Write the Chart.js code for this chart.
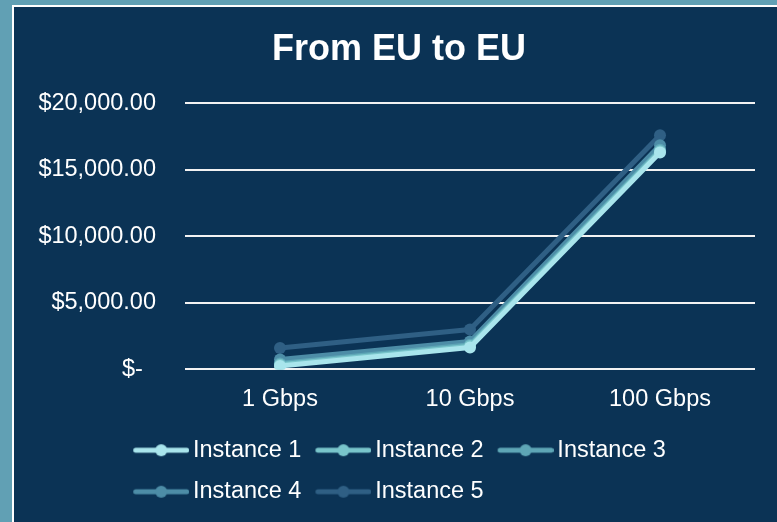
<!DOCTYPE html>
<html>
<head>
<meta charset="utf-8">
<script src="https://cdn.jsdelivr.net/npm/chart.js@4/dist/chart.umd.min.js"></script>
<style>
  html, body { margin: 0; padding: 0; width: 777px; height: 522px; overflow: hidden; background: #61a0b4; }
  #panel { position: absolute; left: 12px; top: 5px; border-left: 2px solid #ffffff; border-top: 2px solid #ffffff; background: #0b3355; width: 770px; height: 515px; }
  #wrap { position: relative; width: 770px; height: 515px; }
</style>
</head>
<body>
<div id="panel"><div id="wrap"><canvas id="c"></canvas></div></div>
<script>
const chartTitle = 'From EU to EU';
const categories = ['1 Gbps', '10 Gbps', '100 Gbps'];
const seriesNames = ['Instance 1', 'Instance 2', 'Instance 3', 'Instance 4', 'Instance 5'];
const instance1 = [250, 1650, 16300];
const instance2 = [350, 1750, 16400];
const instance3 = [450, 1850, 16500];
const instance4 = [750, 2100, 16850];
const instance5 = [1600, 3000, 17600];
const yTickValues = [0, 5000, 10000, 15000, 20000];
const yTickLabels = ['$-  ', '$5,000.00', '$10,000.00', '$15,000.00', '$20,000.00'];

const seriesValues = [instance1, instance2, instance3, instance4, instance5];
const seriesColors = ['#a9e5ec', '#79c5cb', '#5ea6b6', '#4d8da7', '#2f5f84'];
const FONT = "'Liberation Sans', Arial, sans-serif";

function legendIcon(color) {
  const cv = document.createElement('canvas');
  cv.width = 60; cv.height = 14;
  const g = cv.getContext('2d');
  g.strokeStyle = color; g.lineWidth = 5; g.lineCap = 'round';
  g.beginPath(); g.moveTo(6.5, 7); g.lineTo(57.5, 7); g.stroke();
  g.fillStyle = color;
  g.beginPath(); g.arc(32, 7, 6, 0, Math.PI * 2); g.fill();
  return cv;
}
const legendIcons = seriesColors.map(legendIcon);

const legendPlace = {
  id: 'legendPlace',
  afterLayout(chart) {
    const lg = chart.legend;
    if (lg) { lg.left = 105.25; lg.right = 741; }
  }
};

const datasets = seriesNames.map((name, i) => ({
  label: name,
  data: seriesValues[i],
  borderColor: seriesColors[i],
  backgroundColor: seriesColors[i],
  borderWidth: 5,
  pointRadius: 6,
  pointHoverRadius: 6,
  pointBorderWidth: 0,
  pointStyle: 'circle',
  tension: 0,
  fill: false,
  borderJoinStyle: 'round',
  borderCapStyle: 'round',
  yAxisID: 'y'
}));

new Chart(document.getElementById('c'), {
  type: 'line',
  data: { labels: categories, datasets },
  plugins: [legendPlace],
  options: {
    responsive: true,
    maintainAspectRatio: false,
    animation: false,
    layout: { padding: { left: 0, right: 0, top: 0, bottom: 8.5 } },
    plugins: {
      title: {
        display: true,
        text: chartTitle,
        color: '#ffffff',
        font: { family: FONT, size: 36, weight: 'bold' },
        padding: { top: 21.4, bottom: 31.7 }
      },
      legend: {
        display: true,
        position: 'bottom',
        align: 'start',
        labels: {
          color: '#ffffff',
          font: { family: FONT, size: 23.5 },
          usePointStyle: true,
          pointStyleWidth: 44,
          padding: 18,
          generateLabels(chart) {
            const items = Chart.defaults.plugins.legend.labels.generateLabels(chart);
            items.forEach((it) => { it.pointStyle = legendIcons[it.datasetIndex]; });
            return items;
          }
        }
      },
      tooltip: { enabled: false }
    },
    scales: {
      x: {
        offset: true,
        grid: { display: false, drawTicks: false },
        border: { display: false },
        ticks: { color: '#ffffff', font: { family: FONT, size: 23.5 }, padding: 16, maxRotation: 0 },
        afterFit(s) { s.height = 51.1; }
      },
      y: {
        position: 'left',
        min: 0,
        max: 20000,
        grid: { color: '#f2f2f2', lineWidth: 2, drawTicks: false },
        border: { display: false },
        ticks: {
          stepSize: 5000,
          color: '#ffffff',
          font: { family: FONT, size: 23.5 },
          padding: 29,
          callback(v) { const i = yTickValues.indexOf(v); return i >= 0 ? yTickLabels[i] : ''; }
        },
        afterFit(s) { s.width = 171; }
      },
      yRight: {
        position: 'right',
        display: true,
        grid: { display: false, drawTicks: false },
        border: { display: false },
        ticks: { display: false },
        afterFit(s) { s.width = 29; }
      }
    }
  }
});
</script>
</body>
</html>
